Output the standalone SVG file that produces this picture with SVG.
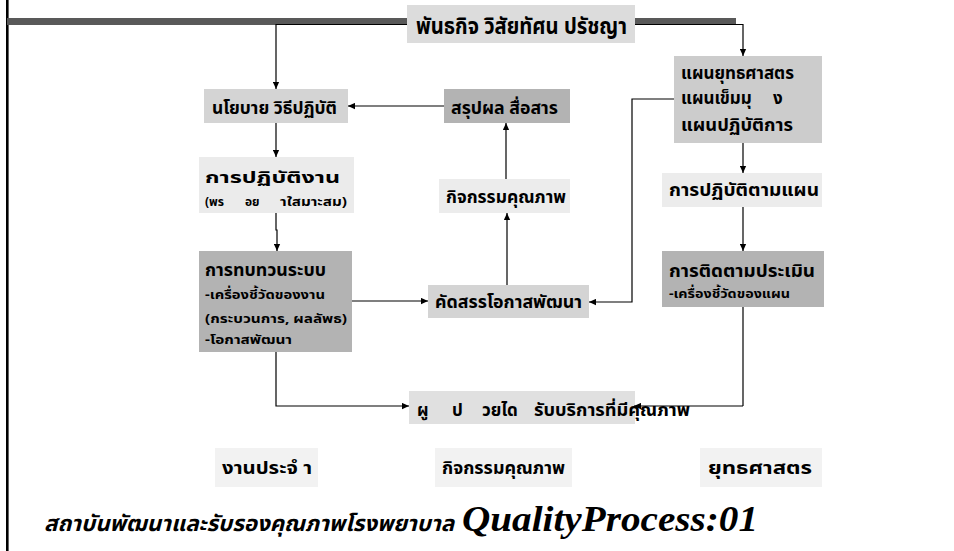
<svg xmlns="http://www.w3.org/2000/svg" width="954" height="551" viewBox="0 0 954 551">
<style>
.t{font-family:"Noto Sans Thai","Noto Sans","DejaVu Sans",sans-serif;font-weight:bold;fill:#000}
.b{font-size:17px}
.s{font-size:13px}
.c{fill:none;stroke:#000;stroke-width:1.2}
</style>
<defs>
<marker id="ah" viewBox="0 0 10 10" refX="10" refY="5" markerWidth="7" markerHeight="7" markerUnits="userSpaceOnUse" orient="auto"><path d="M0,0.5 L10,5 L0,9.5 z" fill="#000"/></marker>
</defs>
<rect x="0" y="0" width="954" height="551" fill="#fff"/>
<rect x="6" y="0" width="2.6" height="551" fill="#000"/>
<rect x="7" y="18" width="729" height="7" fill="#595959"/>

<g id="connectors">
<polyline class="c" points="407,24.5 276,24.5 276,89" marker-end="url(#ah)"/>
<polyline class="c" points="635,24.5 743,24.5 743,56" marker-end="url(#ah)"/>
<line class="c" x1="444" y1="106" x2="348" y2="106" marker-end="url(#ah)"/>
<line class="c" x1="276" y1="123" x2="276" y2="157" marker-end="url(#ah)"/>
<polyline class="c" points="276,213 276,230 277,230 277,251" marker-end="url(#ah)"/>
<line class="c" x1="352" y1="301" x2="428" y2="301" marker-end="url(#ah)"/>
<line class="c" x1="507" y1="285" x2="507" y2="213" marker-end="url(#ah)"/>
<line class="c" x1="506" y1="179" x2="506" y2="123" marker-end="url(#ah)"/>
<polyline class="c" points="674,99 632,99 632,302 589,302" marker-end="url(#ah)"/>
<line class="c" x1="743" y1="143" x2="743" y2="173" marker-end="url(#ah)"/>
<line class="c" x1="743" y1="207" x2="743" y2="251" marker-end="url(#ah)"/>
<polyline class="c" points="276,352 276,406 409,406" marker-end="url(#ah)"/>
</g>

<g id="n-title">
<rect x="407" y="5" width="228" height="38" fill="#dcdcdc"/>
<text class="t" x="416" y="34" font-size="23" textLength="211" lengthAdjust="spacingAndGlyphs">พันธกิจ วิสัยทัศน ปรัชญา</text>
</g>

<g id="n-policy">
<rect x="204" y="89" width="144" height="34" fill="#d4d4d4"/>
<text class="t b" x="212" y="114" textLength="125" lengthAdjust="spacingAndGlyphs">นโยบาย วิธีปฏิบัติ</text>
</g>

<g id="n-summary">
<rect x="444" y="89" width="126" height="34" fill="#b3b3b3"/>
<text class="t b" x="451" y="114" textLength="107" lengthAdjust="spacingAndGlyphs">สรุปผล สื่อสาร</text>
</g>

<g id="n-practice">
<rect x="199" y="157" width="155" height="56" fill="#ebebeb"/>
<text class="t" x="205" y="183" font-size="16" textLength="135" lengthAdjust="spacingAndGlyphs">การปฏิบัติงาน</text>
<text class="t" x="205" y="206" font-size="12" font-weight="normal">(พร</text>
<text class="t" x="245" y="206" font-size="12">อย</text>
<text class="t" x="280" y="206" font-size="12" textLength="67" lengthAdjust="spacingAndGlyphs">าใสมาะสม)</text>
</g>

<g id="n-qa-mid">
<rect x="439" y="179" width="131" height="34" fill="#ececec"/>
<text class="t b" x="446" y="203" textLength="120" lengthAdjust="spacingAndGlyphs">กิจกรรมคุณภาพ</text>
</g>

<g id="n-review">
<rect x="199" y="251" width="153" height="101" fill="#b3b3b3"/>
<text class="t b" x="205" y="276" textLength="121" lengthAdjust="spacingAndGlyphs">การทบทวนระบบ</text>
<text class="t s" x="205" y="299" textLength="120" lengthAdjust="spacingAndGlyphs">-เครื่องชี้วัดของงาน</text>
<text class="t s" x="205" y="323" textLength="142" lengthAdjust="spacingAndGlyphs">(กระบวนการ, ผลลัพธ)</text>
<text class="t s" x="205" y="344" textLength="87" lengthAdjust="spacingAndGlyphs">-โอกาสพัฒนา</text>
</g>

<g id="n-select">
<rect x="428" y="285" width="161" height="33" fill="#d4d4d4"/>
<text class="t" x="435" y="308" font-size="18" textLength="147" lengthAdjust="spacingAndGlyphs">คัดสรรโอกาสพัฒนา</text>
</g>

<g id="n-plans">
<rect x="674" y="56" width="148" height="87" fill="#cccccc"/>
<text class="t b" x="681" y="79" textLength="113" lengthAdjust="spacingAndGlyphs">แผนยุทธศาสตร</text>
<text class="t b" x="681" y="104">แผนเข็มมุ</text>
<text class="t b" x="773" y="104">ง</text>
<text class="t b" x="681" y="131" textLength="112" lengthAdjust="spacingAndGlyphs">แผนปฏิบัติการ</text>
</g>

<g id="n-follow">
<rect x="662" y="173" width="160" height="34" fill="#ececec"/>
<text class="t b" x="669" y="196" textLength="150" lengthAdjust="spacingAndGlyphs">การปฏิบัติตามแผน</text>
</g>

<g id="n-monitor">
<rect x="662" y="251" width="162" height="56" fill="#b3b3b3"/>
<text class="t b" x="669" y="277" textLength="146" lengthAdjust="spacingAndGlyphs">การติดตามประเมิน</text>
<text class="t s" x="669" y="298" textLength="121" lengthAdjust="spacingAndGlyphs">-เครื่องชี้วัดของแผน</text>
</g>

<g id="n-patient">
<rect x="409" y="391" width="226" height="33" fill="#e0e0e0"/>
<text class="t b" x="417" y="416">ผู</text>
<text class="t b" x="452" y="416">ป</text>
<text class="t b" x="482" y="416">วยได</text>
<text class="t b" x="534" y="416" textLength="156" lengthAdjust="spacingAndGlyphs">รับบริการที่มีคุณภาพ</text>
</g>
<line class="c" x1="743" y1="307" x2="743" y2="406"/>
<line class="c" x1="743" y1="406" x2="634" y2="406" marker-end="url(#ah)"/>

<g id="l-routine">
<rect x="215" y="448" width="103" height="39" fill="#f2f2f2"/>
<text class="t b" x="222" y="474" textLength="90" lengthAdjust="spacingAndGlyphs">งานประจํ า</text>
</g>
<g id="l-qa">
<rect x="435" y="448" width="137" height="39" fill="#f2f2f2"/>
<text class="t b" x="442" y="474" textLength="123" lengthAdjust="spacingAndGlyphs">กิจกรรมคุณภาพ</text>
</g>
<g id="l-strategy">
<rect x="700" y="448" width="122" height="39" fill="#f2f2f2"/>
<text class="t b" x="708" y="474" textLength="104" lengthAdjust="spacingAndGlyphs">ยุทธศาสตร</text>
</g>

<g id="footer">
<text class="t" x="44" y="531" font-size="22" font-style="italic" textLength="410" lengthAdjust="spacingAndGlyphs">สถาบันพัฒนาและรับรองคุณภาพโรงพยาบาล</text>
<text x="462" y="531" font-family="'Liberation Serif','Times New Roman',serif" font-size="35" font-weight="bold" font-style="italic" textLength="296" lengthAdjust="spacingAndGlyphs">QualityProcess:01</text>
</g>
</svg>
